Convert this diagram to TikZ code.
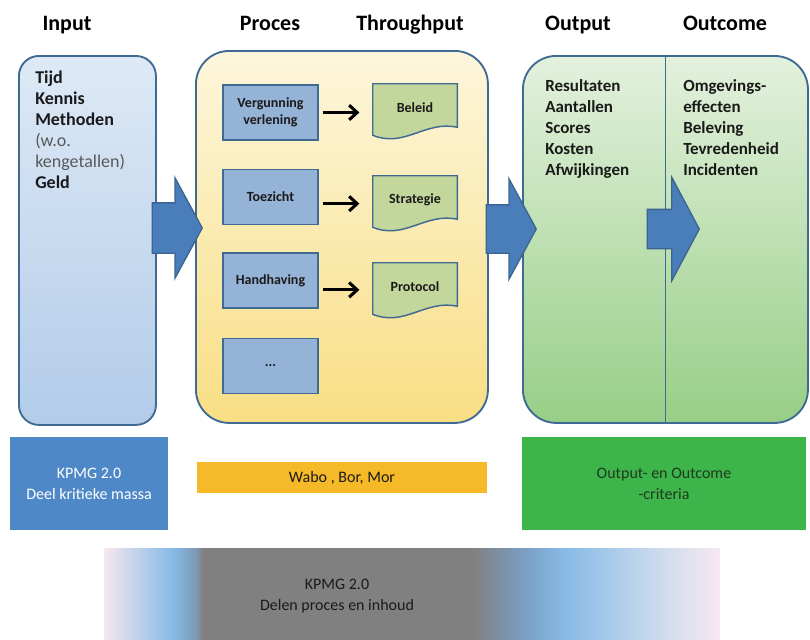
\documentclass[tikz,border=0pt]{standalone}
\usepackage{fontspec}
\setmainfont{Carlito}
\usetikzlibrary{arrows.meta, positioning, calc, shapes.arrows}
\definecolor{frame}    {HTML}{3E6A94}
\definecolor{inputtop} {HTML}{DDE9F6}
\definecolor{inputbot} {HTML}{B2CCE9}
\definecolor{procestop}{HTML}{FDF6DC}
\definecolor{procesbot}{HTML}{F8DE84}
\definecolor{outtop}   {HTML}{E3F1DD}
\definecolor{outbot}   {HTML}{98CE87}
\definecolor{taskblue} {HTML}{95B3D7}
\definecolor{docgreen} {HTML}{C3D69B}
\definecolor{flowblue} {HTML}{4A7EBB}
\definecolor{flowedge} {HTML}{3A6591}
\definecolor{muted}    {HTML}{595959}
\definecolor{ink}      {HTML}{1A1A1A}
\definecolor{kpmgblue} {HTML}{4F88C6}
\definecolor{wabo}     {HTML}{F6B927}
\definecolor{critgreen}{HTML}{3DB54A}
\definecolor{critink}  {HTML}{1F3A1F}
\definecolor{barpink}  {HTML}{F7E7F0}
\definecolor{barblue}  {HTML}{86BAE6}
\definecolor{barslate} {HTML}{7D98B2}
\definecolor{bargray}  {HTML}{808080}
\definecolor{barsteel} {HTML}{7A9CC0}
\definecolor{barmist}  {HTML}{D5DEEE}
\pgfdeclarehorizontalshading{kpmgbar}{100bp}{color(0bp)=(barpink); color(25bp)=(barpink);
  color(30.6bp)=(barblue); color(32.5bp)=(barslate); color(33bp)=(bargray); color(55bp)=(bargray);
  color(58.8bp)=(barsteel); color(62.3bp)=(barblue); color(71bp)=(barmist); color(75bp)=(barpink);
  color(100bp)=(barpink)}
\tikzset{
  head/.style={font=\fontsize{16.5}{20}\selectfont\bfseries, anchor=base, inner sep=0pt},
  column/.style={draw=frame, line width=1.4pt, anchor=north west, inner sep=0pt},
  listtext/.style={font=\fontsize{12.75}{15.5}\selectfont, align=left, anchor=north west, inner sep=0pt, text=ink},
  taskbox/.style={draw=frame, fill=taskblue, line width=1.1pt, minimum width=95*0.75pt, minimum height=55*0.75pt,
    align=center, inner sep=0pt, text=ink, font=\fontsize{10.5}{12.75}\selectfont\bfseries},
  docspot/.style={minimum width=84*0.75pt, minimum height=51*0.75pt, inner sep=0pt},
  docline/.style={draw=frame, fill=docgreen, line width=1.1pt},
  doctext/.style={text=ink, font=\fontsize{10.5}{12.75}\selectfont\bfseries, inner sep=0pt},
  flowline/.style={-{Straight Barb[length=6pt, width=11pt]}, line width=2.3pt, black},
  bigarrow/.style={single arrow, draw=flowedge, fill=flowblue, line width=1pt, inner xsep=0pt, anchor=tip},
  block/.style={align=center, inner sep=0pt, font=\fontsize{12}{15.75}\selectfont}
}
\begin{document}
\begin{tikzpicture}[x=0.75pt, y=-0.75pt]
  \useasboundingbox (0,0) rectangle (810,639);

  \node[head] (hinput) at (67,31) {Input};
  \node[head] (hproces) at (270,31) {Proces};
  \node[head] (hthrough) at (410,31) {Throughput};
  \node[head] (houtput) at (578,31) {Output};
  \node[head] (houtcome) at (725,31) {Outcome};

  \node[column, rounded corners=15pt, top color=inputtop, bottom color=inputbot,
    minimum width=137*0.75pt, minimum height=369*0.75pt] (input) at (18,55) {};
  \node[column, rounded corners=25pt, top color=procestop, bottom color=procesbot,
    minimum width=292*0.75pt, minimum height=372*0.75pt] (proces) at (195,50) {};
  \node[column, rounded corners=25pt, top color=outtop, bottom color=outbot,
    minimum width=285*0.75pt, minimum height=367*0.75pt] (result) at (522,55) {};
  \draw[frame, line width=1.4pt] (result.north) -- (result.south);

  \node[listtext, font=\fontsize{13.5}{15.75}\selectfont] (means) at (35,71)
    {\textbf{Tijd}\\\textbf{Kennis}\\\textbf{Methoden}\\\textcolor{muted}{(w.o.}\\\textcolor{muted}{kengetallen)}\\\textbf{Geld}};
  \node[listtext, font=\fontsize{12.75}{15.75}\selectfont\bfseries] (outlist) at (545,79)
    {Resultaten\\Aantallen\\Scores\\Kosten\\Afwijkingen};
  \node[listtext, font=\fontsize{12.75}{15.75}\selectfont\bfseries] (effects) at (683,79)
    {Omgevings-\\effecten\\Beleving\\Tevredenheid\\Incidenten};

  \node[taskbox] (verg) at (270.5,112.5) {Vergunning\\verlening};
  \node[taskbox] (toez) at (270.5,197) {Toezicht};
  \node[taskbox] (handh) at (270.5,280.5) {Handhaving};
  \node[taskbox] (more) at (270.5,366) {...};

  \node[docspot] (beleid) at (415,109.5) {};
  \node[docspot] (strat) at (415,201.5) {};
  \node[docspot] (prot) at (415,288.5) {};
  \foreach \d/\t in {beleid/Beleid, strat/Strategie, prot/Protocol} {
    \draw[docline] (\d.north west) -- (\d.north east) -- ($(\d.south east)+(0,-8)$)
      .. controls ($(\d.south east)+(-32,-15)$) and ($(\d.south west)+(32,13)$) .. (\d.south west) -- cycle;
    \node[doctext] (\d-label) at ($(\d)+(0,-2)$) {\t};
  }

  \draw[flowline] ([xshift=3pt]verg.east) -- ([xshift=-10pt]verg.east -| beleid.west);
  \draw[flowline] ([xshift=3pt, yshift=-5pt]toez.east) -- ([xshift=-10pt, yshift=-5pt]toez.east -| strat.west);
  \draw[flowline] ([xshift=3pt, yshift=-7pt]handh.east) -- ([xshift=-10pt, yshift=-7pt]handh.east -| prot.west);

  \node[bigarrow, minimum height=50*0.75pt, inner ysep=24.5*0.75pt, single arrow head extend=25*0.75pt,
    single arrow tip angle=123] (feed) at (203,228) {};
  \node[bigarrow, minimum height=50*0.75pt, inner ysep=23.5*0.75pt, single arrow head extend=26*0.75pt,
    single arrow tip angle=123] (deliver) at (537,229) {};
  \node[bigarrow, minimum height=52*0.75pt, inner ysep=19*0.75pt, single arrow head extend=32*0.75pt,
    single arrow tip angle=124] (effect) at (700,229) {};

  \node[block, fill=kpmgblue, text=white, minimum width=158*0.75pt, minimum height=93*0.75pt] (share) at (89,483.5)
    {KPMG 2.0\\Deel kritieke massa};
  \node[block, fill=wabo, text=ink, minimum width=290*0.75pt, minimum height=31*0.75pt] (law) at (342,477.5)
    {Wabo , Bor, Mor};
  \node[block, fill=critgreen, text=critink, minimum width=284*0.75pt, minimum height=93*0.75pt] (crit) at (664,483.5)
    {Output- en Outcome\\-criteria};
  \node[block, shade, shading=kpmgbar, minimum width=616*0.75pt, minimum height=91*0.75pt] (bar) at (412,593.5) {};
  \node[block, text=ink] (bartext) at (337,596) {KPMG 2.0\\Delen proces en inhoud};
\end{tikzpicture}
\end{document}
